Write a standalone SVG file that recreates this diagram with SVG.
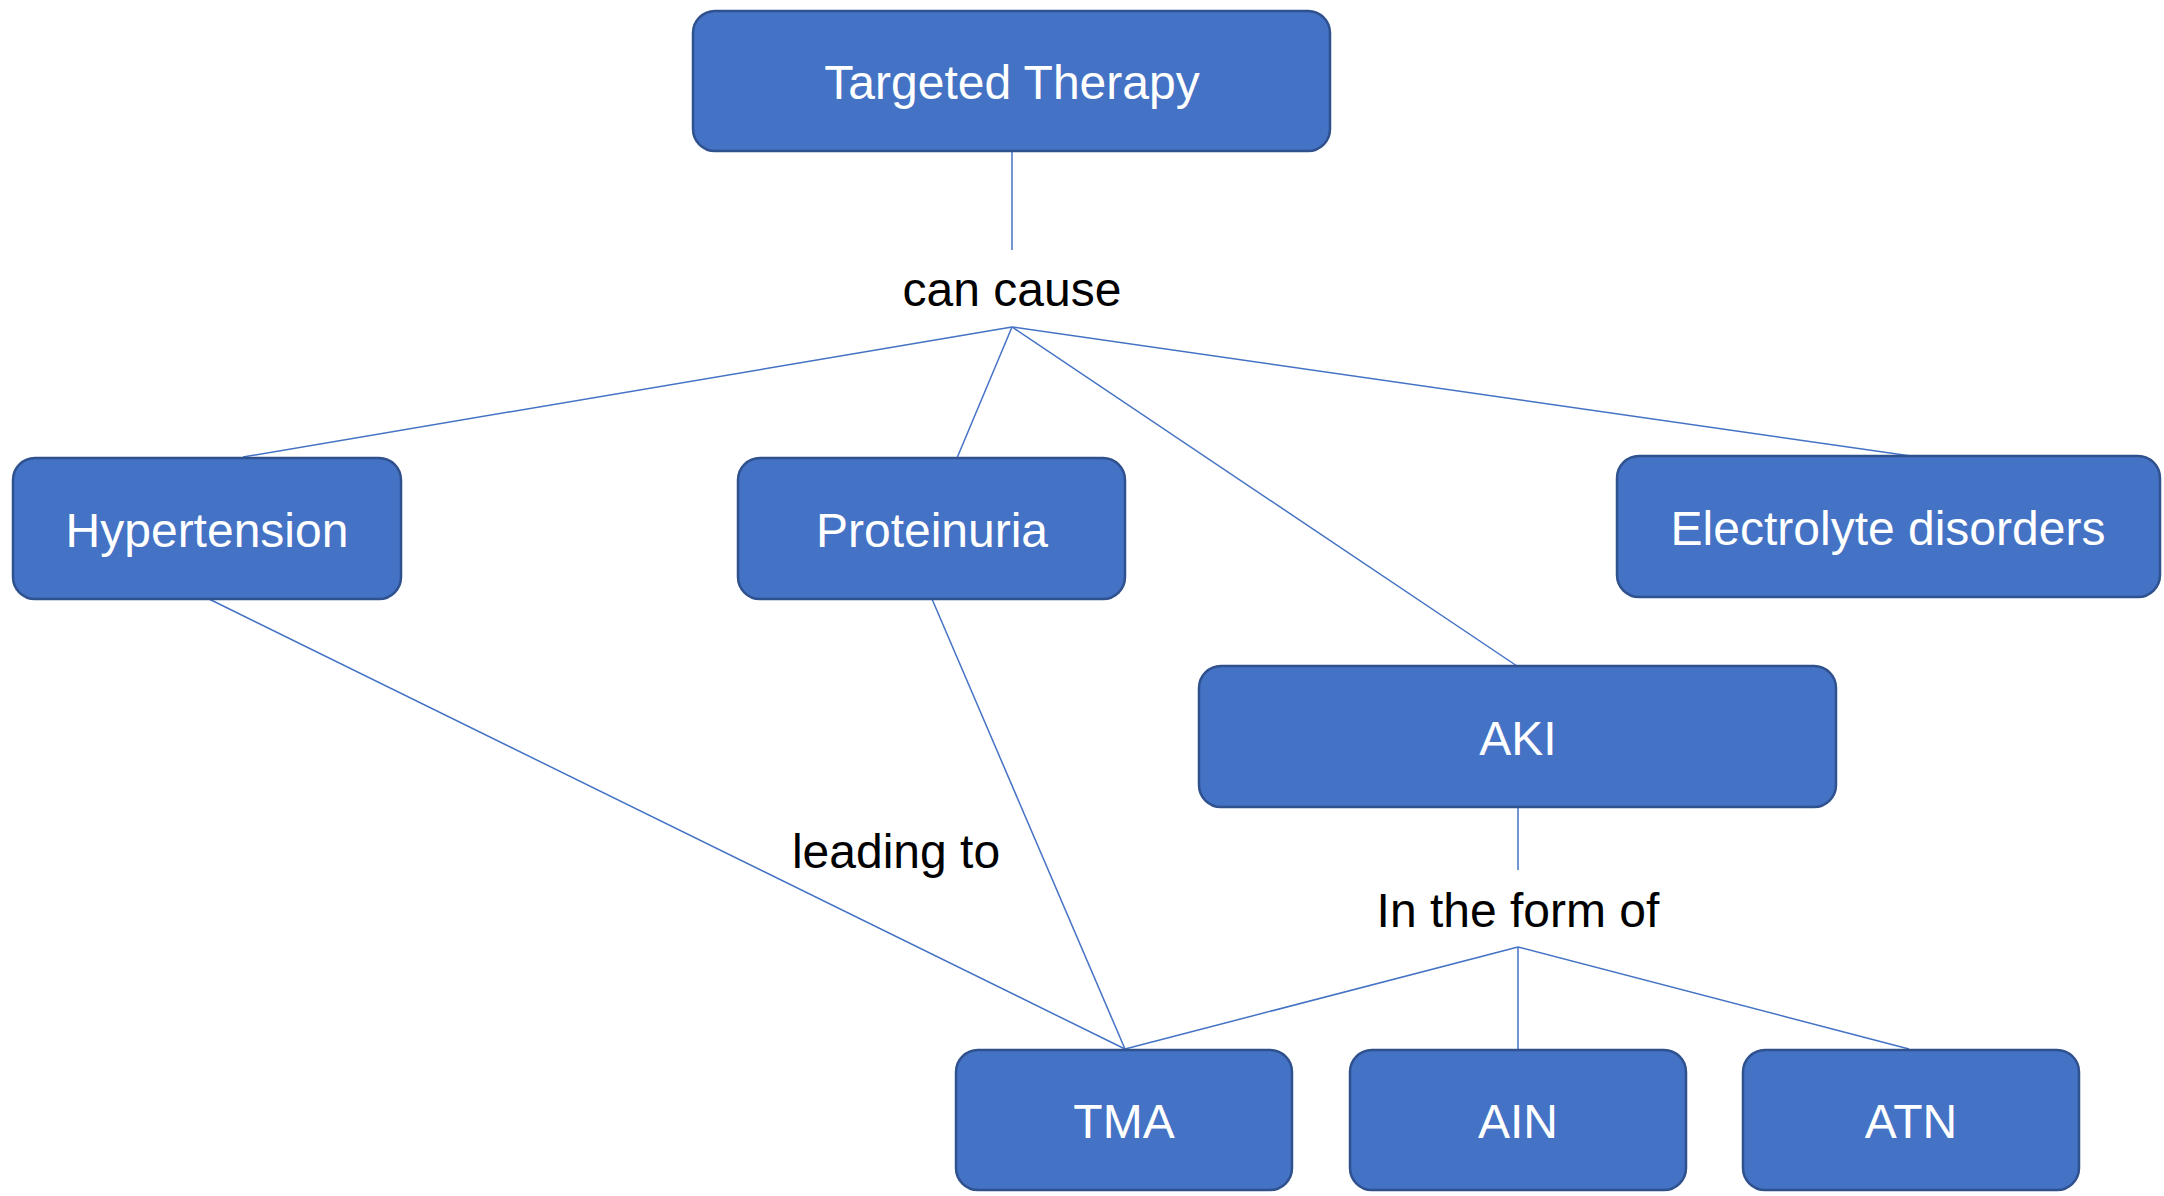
<svg xmlns="http://www.w3.org/2000/svg" width="2164" height="1196" viewBox="0 0 2164 1196">
<style>
.node rect{fill:#4472C4;stroke:#2F528F;stroke-width:2.5}
.node text{fill:#FFFFFF;font-family:"Liberation Sans",Arial,sans-serif;font-size:48px;text-anchor:middle;dominant-baseline:central}
.lbl{fill:#000000;font-family:"Liberation Sans",Arial,sans-serif;font-size:48px;text-anchor:middle}
#connectors line{stroke:#4472C4;stroke-width:1.5;fill:none}
</style>
<rect x="0" y="0" width="2164" height="1196" fill="#FFFFFF"/>
<g id="connectors">
<line x1="1012" y1="151" x2="1012" y2="250"/>
<line x1="1012" y1="327" x2="243" y2="457"/>
<line x1="1012" y1="327" x2="957" y2="458"/>
<line x1="1012" y1="327" x2="1517" y2="666"/>
<line x1="1012" y1="327" x2="1911" y2="456"/>
<line x1="209" y1="599" x2="1125" y2="1049"/>
<line x1="932" y1="599" x2="1125" y2="1049"/>
<line x1="1518" y1="807" x2="1518" y2="870"/>
<line x1="1518" y1="947" x2="1125" y2="1049"/>
<line x1="1518" y1="947" x2="1518" y2="1049"/>
<line x1="1518" y1="947" x2="1909" y2="1049"/>
</g>
<g id="labels">
<text class="lbl" x="1012" y="306">can cause</text>
<text class="lbl" x="896" y="868">leading to</text>
<text class="lbl" x="1518" y="927">In the form of</text>
</g>
<g id="node-targeted-therapy" class="node">
<rect x="693" y="11" width="637" height="140" rx="22"/>
<text x="1012" y="82">Targeted Therapy</text>
</g>
<g id="node-hypertension" class="node">
<rect x="13" y="458" width="388" height="141" rx="22"/>
<text x="207" y="530">Hypertension</text>
</g>
<g id="node-proteinuria" class="node">
<rect x="738" y="458" width="387" height="141" rx="22"/>
<text x="932" y="530">Proteinuria</text>
</g>
<g id="node-electrolyte" class="node">
<rect x="1617" y="456" width="543" height="141" rx="22"/>
<text x="1888" y="528">Electrolyte disorders</text>
</g>
<g id="node-aki" class="node">
<rect x="1199" y="666" width="637" height="141" rx="22"/>
<text x="1518" y="738">AKI</text>
</g>
<g id="node-tma" class="node">
<rect x="956" y="1050" width="336" height="140" rx="22"/>
<text x="1124" y="1121">TMA</text>
</g>
<g id="node-ain" class="node">
<rect x="1350" y="1050" width="336" height="140" rx="22"/>
<text x="1518" y="1121">AIN</text>
</g>
<g id="node-atn" class="node">
<rect x="1743" y="1050" width="336" height="140" rx="22"/>
<text x="1911" y="1121">ATN</text>
</g>
</svg>
